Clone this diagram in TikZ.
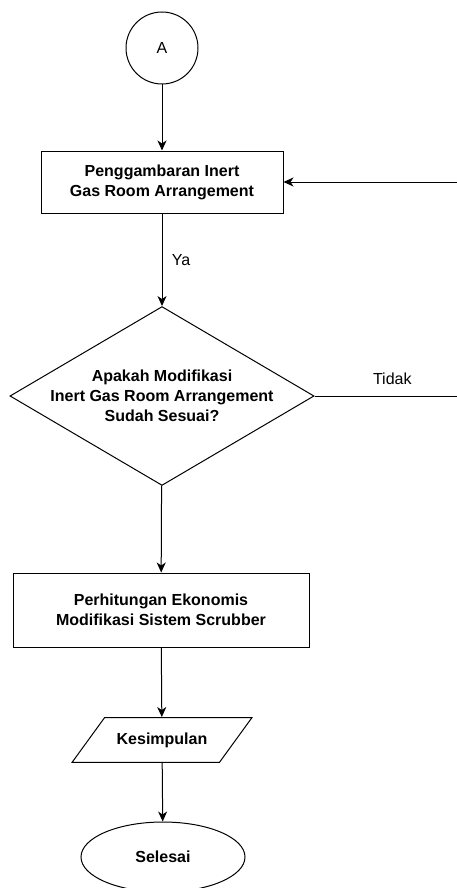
\documentclass[tikz,border=0pt]{standalone}
\usepackage{fontspec}
\setmainfont{Liberation Sans}
\usetikzlibrary{shapes.geometric,arrows.meta}

\begin{document}
\begin{tikzpicture}[x=1pt,y=-1pt,line width=1pt,
	font=\fontsize{16pt}{20pt}\selectfont,
	arr/.style={-{Stealth[length=10pt,width=9pt,inset=3pt]}},
	proc/.style={draw,rectangle,align=center,font=\fontsize{16pt}{20pt}\selectfont\bfseries},
	decision/.style={draw,diamond,align=center,aspect=1.7,inner xsep=-3.5pt,inner ysep=0pt,
		minimum width=303pt,minimum height=178pt,font=\fontsize{16pt}{20pt}\selectfont\bfseries},
	io/.style={draw,trapezium,trapezium left angle=54,trapezium right angle=126,
		trapezium stretches body,inner ysep=15pt,minimum width=180pt,font=\fontsize{16pt}{20pt}\selectfont\bfseries},
	stop/.style={draw,ellipse,minimum width=164pt,minimum height=70pt,font=\fontsize{16pt}{20pt}\selectfont\bfseries}]
				\useasboundingbox (0,0) rectangle (457,888);
				\clip (0,0) rectangle (457,888);
				\node[draw,circle,minimum size=72pt,inner sep=0pt] (A) at (162,48) {A};
				\node[proc,minimum width=242pt,minimum height=62pt] (gambar) at (162,182) {Penggambaran Inert\\Gas Room Arrangement};
				\node[decision] (sesuai) at (162,396) {Apakah Modifikasi\\Inert Gas Room Arrangement\\Sudah Sesuai?};
				\node[proc,minimum width=296pt,minimum height=74pt] (ekonomi) at (161,610) {Perhitungan Ekonomis\\Modifikasi Sistem Scrubber};
				\node[io] (simpul) at (162,740) {Kesimpulan};
				\node[stop] (selesai) at (163,857) {Selesai};
				\coordinate (balik) at (470,396);
				\draw[arr] (A) -- (gambar);
				\draw[arr] (gambar) -- node[right=6pt,font=\fontsize{16pt}{20pt}\selectfont] {Ya} (sesuai);
				\draw[arr] (sesuai.east) -- node[above=8pt,font=\fontsize{16pt}{20pt}\selectfont] {Tidak} (balik) |- (gambar.east);
				\draw[arr] (sesuai) -- (ekonomi);
				\draw[arr] (ekonomi) -- (simpul);
				\draw[arr] (simpul) -- (selesai);
			\end{tikzpicture}
\end{document}
